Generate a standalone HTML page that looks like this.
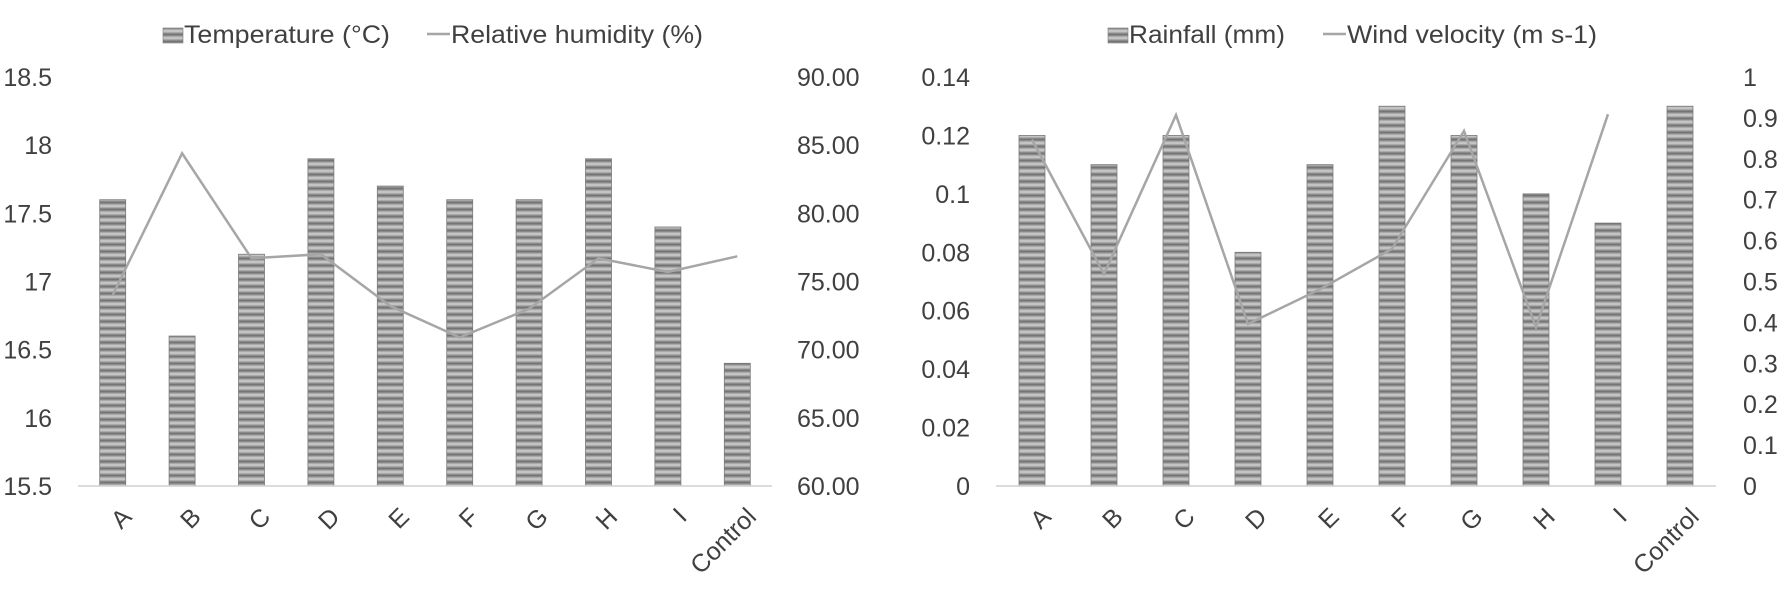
<!DOCTYPE html>
<html><head><meta charset="utf-8"><style>
html,body{margin:0;padding:0;background:#fff;}
svg{display:block;font-family:"Liberation Sans",sans-serif;}
text{fill:#404040;font-size:25px;}
</style></head><body>
<svg id="chart" width="1784" height="590" viewBox="0 0 1784 590">
<defs>
<pattern id="stripes" patternUnits="userSpaceOnUse" width="10" height="7">
<rect width="10" height="7" fill="#8a8a8a"/>
<rect y="1" width="10" height="1" fill="#a9a9a9"/>
<rect y="2" width="10" height="2" fill="#c4c4c4"/>
<rect y="4" width="10" height="1" fill="#a9a9a9"/>
<rect y="6" width="10" height="1" fill="#747474"/>
</pattern>
</defs>
<g id="left"></g>
<g id="right"></g>
</svg>
<script>
const categories = ["A","B","C","D","E","F","G","H","I","Control"];
const temperature = [17.6,16.6,17.2,17.9,17.7,17.6,17.6,17.9,17.4,16.4];
const humidity = [74.0,84.4,76.7,77.0,73.2,70.9,73.0,76.7,75.7,76.85];
const rainfall = [0.12,0.11,0.12,0.08,0.11,0.13,0.12,0.10,0.09,0.13];
const wind = [0.847,0.518,0.907,0.396,0.481,0.58,0.868,0.388,0.909,null];
const tempTicks = ["15.5","16","16.5","17","17.5","18","18.5"];
const humTicks = ["60.00","65.00","70.00","75.00","80.00","85.00","90.00"];
const rainTicks = ["0","0.02","0.04","0.06","0.08","0.1","0.12","0.14"];
const windTicks = ["0","0.1","0.2","0.3","0.4","0.5","0.6","0.7","0.8","0.9","1"];

const NS="http://www.w3.org/2000/svg";
function mk(parent,tag,attrs,txt){const e=document.createElementNS(NS,tag);for(const k in attrs)e.setAttribute(k,attrs[k]);if(txt!==undefined)e.textContent=txt;parent.appendChild(e);return e;}

function drawChart(g,cfg){
  const top=77,bot=486;
  const x0=cfg.x0,x1=cfg.x1,step=(x1-x0)/categories.length;
  const xc=i=>x0+step*(i+0.5);
  const yL=v=>bot-(v-cfg.lmin)/(cfg.lmax-cfg.lmin)*(bot-top);
  const yR=v=>bot-(v-cfg.rmin)/(cfg.rmax-cfg.rmin)*(bot-top);
  cfg.lticks.forEach(t=>{
    const tx=mk(g,'text',{x:cfg.lLabelX,y:yL(parseFloat(t))+9,'text-anchor':'end'},t);
    
    
  });
  cfg.rticks.forEach(t=>{
    const tx=mk(g,'text',{x:cfg.rLabelX,y:yR(parseFloat(t))+9,'text-anchor':'start'},t);
    
    
  });
  cfg.bars.forEach((v,i)=>{
    const y=yL(v);
    const r=mk(g,'rect',{x:xc(i)-13,y:y,width:26,height:bot-y,fill:'url(#stripes)',stroke:'#7a7a7a','stroke-width':0.8});
    
    
  });
  const ax=mk(g,'line',{x1:x0,x2:x1,y1:bot,y2:bot,stroke:'#d0d0d0','stroke-width':1.5});
  
  
  let d='';
  cfg.line.forEach((v,i)=>{if(v===null)return;d+=(d?'L':'M')+xc(i).toFixed(1)+','+yR(v).toFixed(1);});
  const p=mk(g,'path',{d:d,fill:'none',stroke:'#a6a6a6','stroke-width':2.5,'stroke-linejoin':'miter'});
  
  
  categories.forEach((c,i)=>{
    const x=xc(i)+8,y=bot+20;
    const t=mk(g,'text',{x:x,y:y,'text-anchor':'end',transform:`rotate(-45 ${x} ${y})`,dy:'0.7em'},c);
    
    
  });
  const lg=mk(g,'g',{});
  
  
  const sw=mk(lg,'rect',{x:cfg.leg[0],y:28,width:20,height:15,fill:'url(#stripes)',stroke:'#7a7a7a','stroke-width':0.6});
  
  
  const t1=mk(lg,'text',{x:cfg.leg[0]+21,y:43,'font-size':23,textLength:cfg.legW[0],lengthAdjust:'spacingAndGlyphs'},cfg.names[0]);
  
  
  const ln=mk(lg,'line',{x1:cfg.leg[1],x2:cfg.leg[1]+23,y1:34,y2:34,stroke:'#a6a6a6','stroke-width':2.5});
  
  
  const t2=mk(lg,'text',{x:cfg.leg[1]+24,y:43,'font-size':23,textLength:cfg.legW[1],lengthAdjust:'spacingAndGlyphs'},cfg.names[1]);
  
  
}

drawChart(document.getElementById('left'),{x0:78,x1:772,lmin:15.5,lmax:18.5,rmin:60,rmax:90,
  lticks:tempTicks,rticks:humTicks,lLabelX:52,rLabelX:797,bars:temperature,line:humidity,
  leg:[163,427],legW:[206,252],names:["Temperature (°C)","Relative humidity (%)"]});
drawChart(document.getElementById('right'),{x0:996,x1:1716,lmin:0,lmax:0.14,rmin:0,rmax:1,
  lticks:rainTicks,rticks:windTicks,lLabelX:970,rLabelX:1743,bars:rainfall,line:wind,
  leg:[1108,1323],legW:[156,250],names:["Rainfall (mm)","Wind velocity (m s-1)"]});
</script>
</body></html>
